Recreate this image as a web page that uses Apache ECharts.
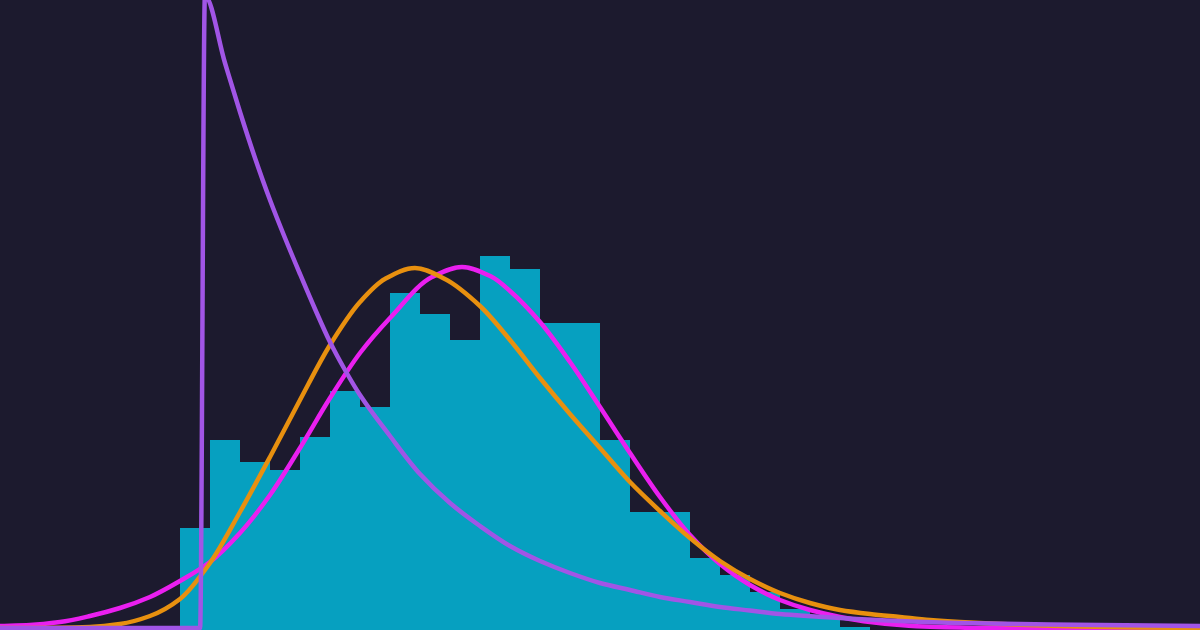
<!DOCTYPE html>
<html>
<head>
<meta charset="utf-8">
<script src="https://cdn.jsdelivr.net/npm/echarts@6/dist/echarts.min.js"></script>
<style>
html,body{margin:0;padding:0;background:#1c1a2e;}
#c{width:1200px;height:630px;}
</style>
</head>
<body>
<div id="c"></div>
<script>
// Histogram: bin start (bin units) and height
const binStarts = [0,1,2,3,4,5,6,7,8,9,10,11,12,13,14,15,16,17,18,19,20,21,22,23,24,25,26,27,28,29,30,31,32,33,34,35,36,37,38,39];
const binCounts = [0,0,0,0.1,0.1,0.2,10.0,18.8,16.6,15.8,19.1,23.7,22.1,33.5,31.4,28.8,37.2,35.9,30.5,30.5,18.8,11.6,11.6,7.0,5.3,3.6,1.9,1.0,0.1,0,0,0,0,0,0,0,0,0,0,0];

// Orange fitted curve
const orangeX = [0,1,2,3,4,5,6,7,8,9,10,11,12,12.83,13.83,14.83,16,17,18,19,20,21,22,23,24,25,26,27,28,29,30,31,32,33,34,35,36,37,38,39,40];
const orangeY = [0,0,0.02,0.1,0.4,1.2,2.9,6.5,11.6,17.1,22.8,28.3,32.6,34.9,36.0,34.9,32.2,28.8,25.0,21.4,18.0,14.6,11.7,9.0,6.7,4.9,3.5,2.5,1.8,1.4,1.1,0.8,0.6,0.45,0.32,0.22,0.15,0.1,0.06,0.03,0.02];

// Magenta fitted curve
const magentaX = [0,1,2,3,4,5,6,7,8,9,10,11,12,13,14.4,15.4,16.4,17,18,19,20,21,22,23,24,25,26,27,28,29,30,31,32,33,34,36,38,40];
const magentaY = [0.2,0.3,0.6,1.2,2.0,3.1,4.7,6.6,9.5,13.3,18.0,23.0,27.5,31.0,35.1,36.1,35.1,33.7,30.6,26.6,22.1,17.5,13.1,9.3,6.4,4.3,2.8,1.8,1.1,0.6,0.3,0.12,0.04,0,0,0,0,0];

// Purple fitted curve
const purpleX = [0,6.67,6.83,7.5,8,8.5,9,9.5,10,10.5,11,11.5,12,13,14,15,16,17,18,19,20,21,22,23,24,25,26,28,30,32,35,40];
const purpleY = [0,0,63.2,56.5,51.6,47.0,42.8,39.0,35.4,31.9,28.6,25.8,23.3,19.2,15.4,12.5,10.2,8.2,6.7,5.5,4.5,3.8,3.1,2.6,2.1,1.75,1.4,1.0,0.7,0.5,0.35,0.2];

// Monotone cubic (Fritsch–Carlson) path through points mapped by the chart's own axes
function curvePath(xs, ys, api){
  const p = xs.map((x,i)=>api.coord([x, ys[i]]));
  const n = p.length, d = [], m = [];
  for (let i=0;i<n-1;i++) d[i] = (p[i+1][1]-p[i][1])/(p[i+1][0]-p[i][0]);
  m[0] = d[0]; m[n-1] = d[n-2];
  for (let i=1;i<n-1;i++){
    if (d[i-1]*d[i] <= 0) { m[i] = 0; continue; }
    const h0 = p[i][0]-p[i-1][0], h1 = p[i+1][0]-p[i][0];
    const w1 = 2*h1+h0, w2 = h1+2*h0;
    m[i] = (w1+w2)/(w1/d[i-1] + w2/d[i]);
  }
  let s = 'M' + p[0][0] + ',' + p[0][1];
  for (let i=0;i<n-1;i++){
    const h = p[i+1][0]-p[i][0];
    s += 'C' + (p[i][0]+h/3) + ',' + (p[i][1]+m[i]*h/3) + ',' +
         (p[i+1][0]-h/3) + ',' + (p[i+1][1]-m[i+1]*h/3) + ',' +
         p[i+1][0] + ',' + p[i+1][1];
  }
  return s;
}

function curveSeries(xs, ys, color, z){
  return {
    type:'custom', z:z, silent:true,
    data:[[xs[0], ys[0]]],
    renderItem: function(params, api){
      return {
        type:'path',
        shape:{pathData: curvePath(xs, ys, api)},
        style:{fill:'none', stroke:color, lineWidth:4.5, lineJoin:'round', lineCap:'round'}
      };
    }
  };
}

const chart = echarts.init(document.getElementById('c'), null, {renderer:'canvas'});
chart.setOption({
  backgroundColor: '#1c1a2e',
  animation: false,
  grid: {left:0, right:0, top:0, bottom:0},
  xAxis: {type:'value', min:0, max:40, show:false},
  yAxis: {type:'value', min:-0.2, max:62.8, show:false},
  series: [
    {
      type:'custom',
      data: binStarts.map((x,i)=>[x, binCounts[i]]),
      renderItem: function(params, api){
        const x0 = api.value(0), h = api.value(1);
        if (h <= 0) return null;
        const pTop = api.coord([x0, h]);
        const pEnd = api.coord([x0 + 1, 0]);
        const bottom = params.coordSys.y + params.coordSys.height;
        return {
          type:'rect',
          shape:{x:pTop[0], y:pTop[1], width:pEnd[0]-pTop[0], height:bottom - pTop[1]},
          style:{fill:'#06a0c0'}
        };
      },
      z:1
    },
    curveSeries(magentaX, magentaY, '#ea1ff0', 2),
    curveSeries(orangeX, orangeY, '#e8900f', 3),
    curveSeries(purpleX, purpleY, '#a155e6', 4)
  ]
});
</script>
</body>
</html>
